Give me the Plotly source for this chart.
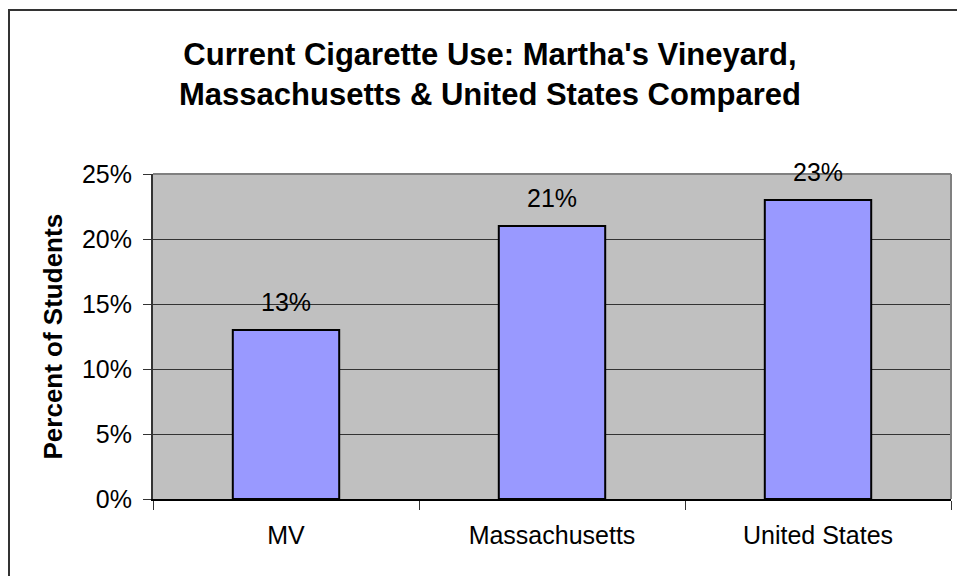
import plotly.graph_objects as go

categories = ["MV", "Massachusetts", "United States"]
values = [13, 21, 23]
value_labels = ["13%", "21%", "23%"]
y_tick_vals = [0, 5, 10, 15, 20, 25]
y_tick_text = ["0%", "5%", "10%", "15%", "20%", "25%"]
title_text = "Current Cigarette Use: Martha's Vineyard,<br>Massachusetts & United States Compared"
y_title = "Percent of Students"

W, H = 957, 576
L, R, T, B = 153, 6, 174, 77
pw, ph = W - L - R, H - T - B

def px_x(x):
    return (x - L) / pw

def px_y(y):
    return (H - B - y) / ph

FONT = "Liberation Sans, Arial, sans-serif"

fig = go.Figure()
fig.add_trace(go.Bar(
    x=categories, y=values,
    marker=dict(color="#9999FF", line=dict(color="black", width=2)),
    hoverinfo="skip",
))

annotations = []
for c, v, t in zip(categories, values, value_labels):
    annotations.append(dict(x=c, y=v, xref="x", yref="y", text=t, showarrow=False,
                            yanchor="bottom", yshift=12,
                            font=dict(family=FONT, size=25, color="black")))

annotations.append(dict(x=px_x(490), y=px_y(74), xref="paper", yref="paper",
                        text="<b>" + title_text.replace("<br>", "</b><br><b>") + "</b>",
                        showarrow=False, xanchor="center", yanchor="middle",
                        font=dict(family=FONT, size=31, color="black")))
annotations.append(dict(x=px_x(52), y=0.5, xref="paper", yref="paper",
                        text="<b>" + y_title + "</b>", textangle=-90,
                        showarrow=False, xanchor="center", yanchor="middle",
                        font=dict(family=FONT, size=26, color="black")))

shapes = [
    dict(type="rect", xref="paper", yref="paper",
         x0=px_x(9), x1=px_x(1100), y0=px_y(10), y1=px_y(800),
         line=dict(color="#333333", width=2), fillcolor="rgba(0,0,0,0)", layer="below"),
    dict(type="line", xref="paper", yref="paper", x0=0, x1=1, y0=1, y1=1,
         line=dict(color="#808080", width=2)),
    dict(type="line", xref="paper", yref="paper", x0=1, x1=1, y0=0, y1=1,
         line=dict(color="#808080", width=2)),
]

fig.update_layout(
    width=W, height=H,
    margin=dict(l=L, r=R, t=T, b=B, pad=0),
    paper_bgcolor="white", plot_bgcolor="#C0C0C0",
    bargap=0.6, showlegend=False,
    annotations=annotations, shapes=shapes,
    font=dict(family=FONT, size=25, color="black"),
)
fig.update_xaxes(
    showgrid=False, showline=True, linecolor="black", linewidth=2,
    ticks="outside", ticklen=9, tickwidth=1, tickcolor="#333333",
    tickson="boundaries", ticklabelstandoff=13,
    tickfont=dict(family=FONT, size=25, color="black"),
)
fig.update_yaxes(
    range=[0, 25], tickvals=y_tick_vals, ticktext=y_tick_text,
    showgrid=True, gridcolor="#333333", gridwidth=1,
    showline=True, linecolor="#333333", linewidth=2,
    ticks="outside", ticklen=8, tickwidth=1, tickcolor="#333333",
    ticklabelstandoff=6, zeroline=False,
    tickfont=dict(family=FONT, size=25, color="black"),
)

fig.write_html("out.html", config={"displayModeBar": False},
               post_script="document.body.style.margin='0';document.body.style.overflow='hidden';")
